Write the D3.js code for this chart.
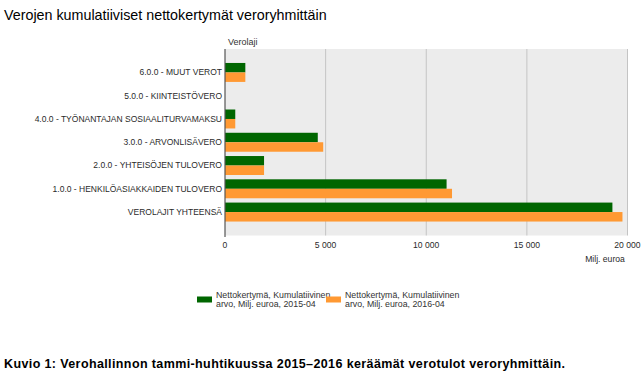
<!DOCTYPE html>
<html><head><meta charset="utf-8">
<script src="https://cdn.jsdelivr.net/npm/d3@7"></script>
<style>
body{margin:0;background:#fff;}
svg{display:block;}
</style></head>
<body>
<svg id="c" width="642" height="374"></svg>
<script>
const categories = ["6.0.0 - MUUT VEROT","5.0.0 - KIINTEISTÖVERO","4.0.0 - TYÖNANTAJAN SOSIAALITURVAMAKSU","3.0.0 - ARVONLISÄVERO","2.0.0 - YHTEISÖJEN TULOVERO","1.0.0 - HENKILÖASIAKKAIDEN TULOVERO","VEROLAJIT YHTEENSÄ"];
const values2015 = [1010, 0, 510, 4610, 1940, 11010, 19250];
const values2016 = [1010, 0, 510, 4880, 1940, 11280, 19750];
const seriesLines = [["Nettokertymä, Kumulatiivinen", "arvo, Milj. euroa, 2015-04"], ["Nettokertymä, Kumulatiivinen", "arvo, Milj. euroa, 2016-04"]];
const xTicks = [0, 5000, 10000, 15000, 20000];

const svg = d3.select("#c");
const colors = ["#006600", "#ff9933"];
const pL = 225, pR = 627.5, pT = 49, pB = 235.5;

const x = d3.scaleLinear().domain([0, 20000]).range([pL, pR]);
const y = d3.scaleBand().domain(categories).range([pT, pB]).paddingInner(0.185).paddingOuter(0.6);
const y1 = d3.scaleBand().domain([0,1]).range([0, y.bandwidth()]);

svg.append("text").attr("x", 4).attr("y", 20).text("Verojen kumulatiiviset nettokertymät veroryhmittäin")
  .attr("font-family","Liberation Sans, Arial, sans-serif").attr("font-size", 14.3).attr("fill","#000");

svg.append("rect").attr("x", pL).attr("y", pT).attr("width", pR-pL).attr("height", pB-pT).attr("fill","#ececec");

svg.append("g").selectAll("line").data(xTicks.slice(1)).join("line")
  .attr("x1", d=>x(d)).attr("x2", d=>x(d)).attr("y1", pT).attr("y2", pB)
  .attr("stroke","#c4c4c4").attr("stroke-width",1);

svg.append("text").attr("x", 228).attr("y", 45).text("Verolaji")
  .attr("font-family","Liberation Sans, Arial, sans-serif").attr("font-size", 9).attr("fill","#333");

const series = [values2015, values2016];
series.forEach((vals, si) => {
  svg.append("g").selectAll("rect").data(categories).join("rect")
    .attr("x", x(0)).attr("y", (d) => y(d) + y1(si))
    .attr("width", (d,i) => x(vals[i]) - x(0)).attr("height", y1.bandwidth())
    .attr("fill", colors[si]);
});

svg.append("line").attr("x1", pL).attr("x2", pL).attr("y1", pT).attr("y2", pB+1.5)
  .attr("stroke","#555").attr("stroke-width",1.2);

svg.append("g").selectAll("text").data(categories).join("text")
  .attr("x", 222).attr("y", d => y(d) + y.bandwidth()/2).attr("dy","0.35em")
  .attr("text-anchor","end").text(d=>d)
  .attr("font-family","Liberation Sans, Arial, sans-serif").attr("font-size", 8.5).attr("fill","#2a2a2a");

svg.append("g").selectAll("text").data(xTicks).join("text")
  .attr("x", d=>x(d)).attr("y", 245).attr("dy","0.35em").attr("text-anchor","middle")
  .text(d => d3.format(",")(d).replace(/,/g," "))
  .attr("font-family","Liberation Sans, Arial, sans-serif").attr("font-size", 8.6).attr("fill","#2a2a2a");

svg.append("text").attr("x", 605).attr("y", 259).attr("dy","0.35em").attr("text-anchor","middle").text("Milj. euroa")
  .attr("font-family","Liberation Sans, Arial, sans-serif").attr("font-size", 8.6).attr("fill","#2a2a2a");

const legX = [197, 326];
seriesLines.forEach((lines, i) => {
  svg.append("rect").attr("x", legX[i]).attr("y", 296.5).attr("width", 15).attr("height", 6).attr("fill", colors[i]);
  const t = svg.append("text").attr("font-family","Liberation Sans, Arial, sans-serif").attr("font-size", 8.8).attr("fill","#333");
  lines.forEach((p, j) => t.append("tspan").attr("x", legX[i]+19).attr("y", 295 + j*8.5).attr("dy","0.35em").text(p));
});

svg.append("text").attr("x", 4).attr("y", 368).text("Kuvio 1: Verohallinnon tammi-huhtikuussa 2015–2016 keräämät verotulot veroryhmittäin.")
  .attr("font-family","Liberation Sans Narrow, Arial Narrow, Liberation Sans, sans-serif").attr("font-weight","bold")
  .attr("font-size", 12.5).attr("fill","#000").attr("textLength", 561).attr("lengthAdjust","spacing");
</script>
</body></html>
